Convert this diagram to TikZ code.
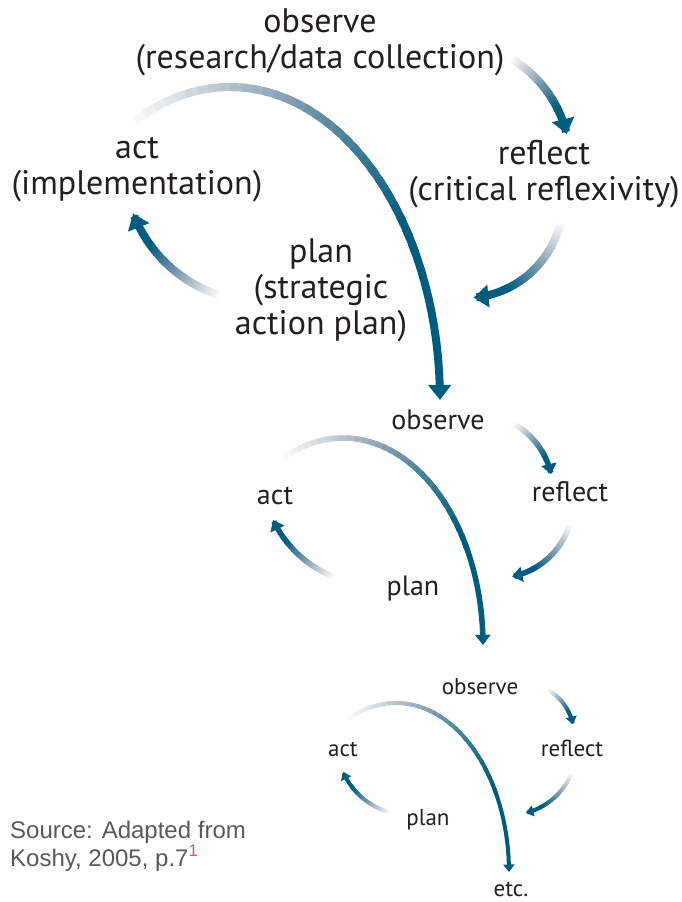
\documentclass[tikz,border=0pt]{standalone}
\usepackage{fontspec}
\setmainfont{PT Sans}
\newfontfamily\srcfont{Liberation Sans}
\usetikzlibrary{math}
\usetikzlibrary{arrows.meta}

\definecolor{cycleblue}{RGB}{0,92,126}
\definecolor{cycleslate}{RGB}{140,163,180}
\definecolor{inktext}{RGB}{35,31,32}
\definecolor{srcgray}{RGB}{88,89,91}
\definecolor{notepink}{RGB}{214,72,154}

% fading arc: centre x, centre y, x radius, y radius, start, end, line width, tip width
\newcommand{\fadearrow}[8]{%
  \foreach \i in {0,...,29}{
    \tikzmath{
      \ta=#5+(#6-#5)*0.75*\i/30;
      \tb=#5+(#6-#5)*0.75*(\i+1.6)/30;
      integer \mixa, \mixb;
      \mixa=min(100,\i*7);
      \mixb=min(100,max(0,(\i-14)*7));}
    \draw[line width=#7, cycleblue!\mixb!cycleslate!\mixa!white]
      plot[domain=\ta:\tb, samples=5] ({#1+#3*cos(\x)}, {#2+#4*sin(\x)});
  }
  \tikzmath{\tc=#5+(#6-#5)*0.75; \hl=0.68*#8;}
  \draw[line width=#7, cycleblue, -{Triangle[width=#8pt, length=\hl pt]}]
    plot[domain=\tc:#6, samples=12] ({#1+#3*cos(\x)}, {#2+#4*sin(\x)});
}

\tikzset{
  bigtext/.style={inner sep=0pt, anchor=base, align=center, text=inktext, font=\fontsize{34}{36}\selectfont},
  midtext/.style={inner sep=0pt, anchor=base, text=inktext, font=\fontsize{28}{32}\selectfont},
  smalltext/.style={inner sep=0pt, anchor=base, text=inktext, font=\fontsize{23}{27}\selectfont},
  srctext/.style={inner sep=0pt, align=left, text=srcgray, font=\srcfont\fontsize{24}{28}\selectfont}
}

\begin{document}
\begin{tikzpicture}[x=1pt, y=-1pt]
  \useasboundingbox (0,0) rectangle (681,902);

  % first cycle
  \fadearrow{230}{400}{210}{313}{-120}{0}{8}{22}
  \fadearrow{450}{162}{120}{120}{-60}{-13.5}{8}{22}
  \fadearrow{465}{200}{98}{98}{12}{85}{8}{22}
  \fadearrow{262}{164}{138}{138}{107}{159}{8}{22}
  \node[bigtext] (observeA) at (320,68) {observe\\(research/data collection)};
  \node[bigtext] (reflectA) at (544,200) {reflect\\(critical reflexivity)};
  \node[bigtext] (actA) at (137,194) {act\\(implementation)};
  \node[bigtext] (planA) at (321,334) {plan\\(strategic\\action plan)};

  % second cycle
  \fadearrow{343}{645}{140}{207}{-118}{0}{5.5}{15}
  \fadearrow{476}{491}{77}{77}{-61}{-12.6}{5.5}{15}
  \fadearrow{497}{502}{76}{76}{16}{78.5}{5.5}{15}
  \fadearrow{376}{471}{114}{114}{111}{154.6}{5.5}{15}
  \node[midtext] (observeB) at (438,429) {observe};
  \node[midtext] (reflectB) at (570,501) {reflect};
  \node[midtext] (actB) at (275,504) {act};
  \node[midtext] (planB) at (413,595) {plan};

  % third cycle
  \fadearrow{396}{872}{113}{169}{-118}{0}{4}{11}
  \fadearrow{522}{735}{52}{52}{-61}{-12}{4}{11}
  \fadearrow{509}{747}{68}{68}{21.6}{75.6}{4}{11}
  \fadearrow{409}{743}{72}{72}{104.4}{156.3}{4}{11}
  \node[smalltext] (observeC) at (480,694) {observe};
  \node[smalltext] (reflectC) at (572,756) {reflect};
  \node[smalltext] (actC) at (343,756) {act};
  \node[smalltext] (planC) at (428,825) {plan};
  \node[smalltext] (etc) at (511,896) {etc.};

  \node[srctext, anchor=base west] (source) at (10,866)
    {Source: Adapted from\\Koshy, 2005, p.7\textsuperscript{\textcolor{notepink}{1}}};
\end{tikzpicture}
\end{document}
